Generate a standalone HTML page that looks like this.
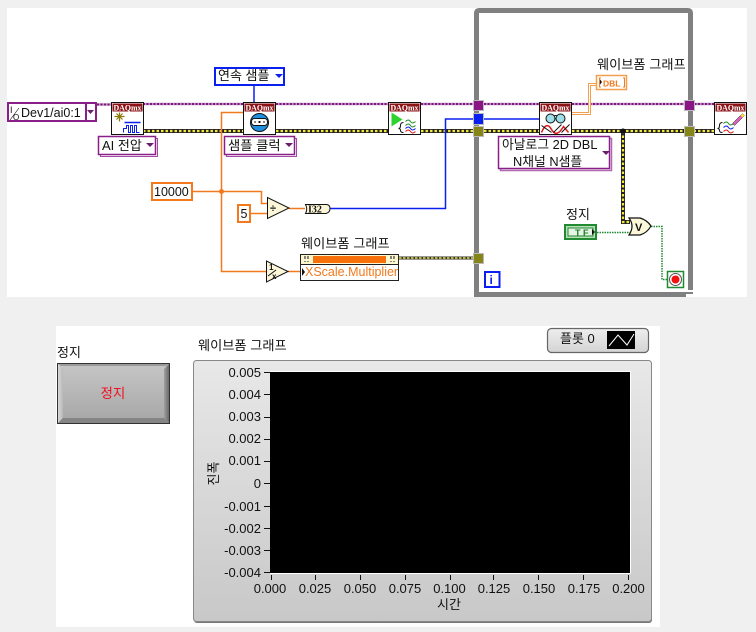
<!DOCTYPE html>
<html><head><meta charset="utf-8"><style>
html,body{margin:0;padding:0;background:#f0f0f0}
svg{display:block}
text{font-family:"Liberation Sans","Noto Sans CJK KR",sans-serif;font-size:13px;fill:#111}
.d{font-family:"Liberation Serif",serif;font-size:8.500px;font-weight:bold;fill:#fff}
</style></head><body>
<svg width="756" height="632" viewBox="0 0 756 632" xmlns="http://www.w3.org/2000/svg">
<defs>
<linearGradient id="b" x1="0" y1="0" x2="0" y2="1"><stop offset="0" stop-color="#c6c6c6"/><stop offset="1" stop-color="#a6a6a6"/></linearGradient>
<linearGradient id="bl" x1="0" y1="0" x2="1" y2="0"><stop offset="0" stop-color="#d8d8d8"/><stop offset="1" stop-color="#b8b8b8"/></linearGradient>
<linearGradient id="br" x1="0" y1="0" x2="1" y2="0"><stop offset="0" stop-color="#a0a0a0"/><stop offset="1" stop-color="#6a6a6a"/></linearGradient>
<linearGradient id="p" x1="0" y1="0" x2="0" y2="1"><stop offset="0" stop-color="#e8e8e8"/><stop offset="1" stop-color="#c8c8c8"/></linearGradient>
<linearGradient id="l" x1="0" y1="0" x2="0" y2="1"><stop offset="0" stop-color="#eeeeee"/><stop offset="1" stop-color="#d4d4d4"/></linearGradient>
</defs>
<rect width="756" height="632" fill="#f0f0f0"/>
<rect x="7" y="8" width="740" height="289" fill="#fff"/>
<rect x="56" y="326" width="604" height="301" fill="#fff"/>

<!-- loop -->
<path d="M476.500 295V13Q476.500 10.500 479 10.500H688Q690.500 10.500 690.500 13V290" fill="none" stroke="#808080" stroke-width="5"/>
<path d="M474 294.500H686" stroke="#808080" stroke-width="5"/>
<path d="M686 293H693" stroke="#808080" stroke-width="2"/>

<!-- wires purple -->
<g fill="none">
<path d="M97 104.500H112M143 104H243M276 104H388M421 104H539M572 104H714" stroke="#c48fc4" stroke-width="2.500"/>
<path d="M97 104.500H112M143 104H243M276 104H388M421 104H539M572 104H714" stroke="#7a1a7a" stroke-width="2" stroke-dasharray="2 1.500"/>
</g>
<!-- wires yellow -->
<g fill="none">
<path d="M143 131H243M276 131H388M421 131H539M572 131H714" stroke="#222" stroke-width="4"/>
<path d="M143 131H243M276 131H388M421 131H539M572 131H714" stroke="#f2e83c" stroke-width="2.200" stroke-dasharray="2.500 2"/>
<path d="M623 131V222H630" stroke="#222" stroke-width="4"/>
<path d="M623 131V222H630" stroke="#f2e83c" stroke-width="2.200" stroke-dasharray="2.500 2"/>
<path d="M399 258H475" stroke="#333" stroke-width="3"/>
<path d="M399 258H475" stroke="#e8e04a" stroke-width="1.500" stroke-dasharray="2.500 1.500"/>
</g>
<circle cx="623" cy="131" r="2.500" fill="#111"/>
<!-- blue -->
<path d="M254 85V102" stroke="#0a20f0" stroke-width="1.500"/>
<path d="M330 208.500H445.500V119H539" fill="none" stroke="#0a20f0" stroke-width="1.500"/>
<!-- orange -->
<g fill="none" stroke="#f2791d" stroke-width="1.500">
<path d="M243 112.500H221.500V271.500H267"/>
<path d="M193 191.500H261.500V203.500H267"/>
<path d="M250 213.500H267"/>
<path d="M289 208.500H305"/>
<path d="M288 271.500H300"/>
</g>
<circle cx="221.500" cy="191.500" r="2.500" fill="#f2791d"/>
<path d="M572 113.500H589.500V84.500H596" fill="none" stroke="#f2a050" stroke-width="3"/>
<path d="M572 113.500H589.500V84.500H596" fill="none" stroke="#fff" stroke-width="1"/>
<!-- green -->
<g fill="none" stroke="#1f8a30" stroke-width="1.500" stroke-dasharray="1.500 1">
<path d="M597 232.500H632"/><path d="M651 226.500H662V279.500H667"/>
</g>

<!-- tunnels -->
<g stroke="#bbb" stroke-width="1">
<rect x="473.500" y="100.500" width="10" height="10" fill="#8a1585"/>
<rect x="473.500" y="113.500" width="10" height="11" fill="#0a20f0"/>
<rect x="473.500" y="126.500" width="10" height="10" fill="#85851a"/>
<rect x="473.500" y="253.500" width="10" height="10" fill="#85851a"/>
<rect x="684.500" y="100.500" width="10" height="10" fill="#8a1585"/>
<rect x="684.500" y="126.500" width="10" height="10" fill="#85851a"/>
</g>

<!-- DAQ nodes -->
<g transform="translate(111.500,102.500)"><rect width="32" height="32" fill="#fff" stroke="#111"/><rect x="1" y="1" width="30" height="8" fill="#8c1216"/><text class="d" x="2" y="8" textLength="28" lengthAdjust="spacingAndGlyphs">DAQmx</text>
<path d="M5 11l6 6M11 11l-6 6M3 14h10M8 10v9" stroke="#8a7a10" stroke-width="1.200"/><path d="M13 20h16" stroke="#0a20f0" stroke-width="1.500"/><path d="M12 30v-4h3v-3h2v7h2v-7h2v7h2v-7h2v7h3" fill="none" stroke="#0a20f0"/></g>
<g transform="translate(243.500,102.500)"><rect width="32" height="32" fill="#fff" stroke="#111"/><rect x="1" y="1" width="30" height="8" fill="#8c1216"/><text class="d" x="2" y="8" textLength="28" lengthAdjust="spacingAndGlyphs">DAQmx</text>
<circle cx="16" cy="20" r="9" fill="#1f8fe0" stroke="#111"/><rect x="8" y="16" width="16" height="7" rx="3" fill="#fff" stroke="#111"/><path d="M11 19.500h1M15 19.500h2M20 19.500h1" stroke="#111" stroke-width="2"/></g>
<g transform="translate(388.500,102.500)"><rect width="32" height="32" fill="#fff" stroke="#111"/><rect x="1" y="1" width="30" height="8" fill="#8c1216"/><text class="d" x="2" y="8" textLength="28" lengthAdjust="spacingAndGlyphs">DAQmx</text>
<path d="M3 10l11 7-11 7z" fill="#2fd22f"/><path d="M15 20q-3 0-3 3t-2 3q2 0 2 2t3 2" fill="none" stroke="#111"/><path d="M17 19q3-3 5 0t5 0M17 23q3-3 5 0t5 0" fill="none" stroke="#2a8a2a"/><path d="M17 26q3-3 5 0t5 0" fill="none" stroke="#0a20f0"/><path d="M17 29q3-3 5 0t5 0" fill="none" stroke="#e01818"/></g>
<g transform="translate(539.500,102.500)"><rect width="32" height="32" fill="#fff" stroke="#111"/><rect x="1" y="1" width="30" height="8" fill="#8c1216"/><text class="d" x="2" y="8" textLength="28" lengthAdjust="spacingAndGlyphs">DAQmx</text>
<circle cx="11" cy="16" r="4.500" fill="#9fe0e8" stroke="#111"/><circle cx="21" cy="16" r="4.500" fill="#9fe0e8" stroke="#111"/><path d="M15 13l2 0" stroke="#111"/><path d="M2 30q5-12 10-3t12-3l5 6" fill="none" stroke="#e01818" stroke-width="1.500"/><path d="M2 23l10 7M14 30l8-8M22 30l8-8" stroke="#111"/></g>
<g transform="translate(714.500,102.500)"><rect width="32" height="32" fill="#fff" stroke="#111"/><rect x="1" y="1" width="30" height="8" fill="#8c1216"/><text class="d" x="2" y="8" textLength="28" lengthAdjust="spacingAndGlyphs">DAQmx</text>
<path d="M18 21l10-10 2 2-10 10z" fill="#e060c0" stroke="#111" stroke-width=".5"/><path d="M26 13l2-2 2 2-2 2z" fill="#f0e040"/><path d="M8 20q-3 0-3 3t-2 3q2 0 2 2t3 2" fill="none" stroke="#111"/><path d="M9 21q3-3 5 0t5 0" fill="none" stroke="#2a8a2a"/><path d="M9 25q3-3 5 0t5 0" fill="none" stroke="#0a20f0"/><path d="M9 29q3-3 5 0t5 0" fill="none" stroke="#e01818"/></g>

<!-- Dev box -->
<rect x="8" y="103" width="88" height="18" fill="#fff" stroke="#8a1f8a" stroke-width="2"/>
<path d="M86 103V121" stroke="#8a1f8a" stroke-width="2"/>
<path d="M87 110h7l-3.500 4z" fill="#6a1f6a"/>
<text x="10" y="113" style="font-size:9px">I</text><text x="13" y="120" style="font-size:8px">O</text><path d="M10 120l9-12" stroke="#111" stroke-width=".6"/>
<text x="21" y="117" style="font-size:12.500px">Dev1/ai0:1</text>

<!-- Enums -->
<rect x="100.500" y="138.500" width="57" height="18" fill="#fff" stroke="#a04aa0"/>
<rect x="98.500" y="136.500" width="57" height="18" fill="#fff" stroke="#8a1f8a" stroke-width="1.500"/>
<text x="102" y="150">AI 전압</text>
<path d="M146 143h8l-4 4z" fill="#6a1f6a"/>
<rect x="226.500" y="138.500" width="70" height="18" fill="#fff" stroke="#a04aa0"/>
<rect x="224.500" y="136.500" width="70" height="18" fill="#fff" stroke="#8a1f8a" stroke-width="1.500"/>
<text x="228" y="150" style="font-size:13.300px">샘플 클럭</text>
<path d="M285 143h8l-4 4z" fill="#6a1f6a"/>
<rect x="215" y="68" width="69" height="17" fill="#fff" stroke="#0a20f0" stroke-width="2"/>
<text x="218" y="80">연속 샘플</text>
<path d="M275 74h8l-4 4z" fill="#0a20f0"/>
<rect x="500.500" y="138.500" width="111" height="32" fill="#fff" stroke="#b068b0" stroke-width="1.500"/>
<rect x="498.500" y="136.500" width="111" height="32" fill="#fff" stroke="#8a1f8a" stroke-width="1.500"/>
<text x="502" y="149" style="font-size:12.800px">아날로그 2D DBL</text>
<text x="513" y="166" style="font-size:12.800px">N채널 N샘플</text>
<path d="M602 151h8l-4 4z" fill="#6a1f6a"/>

<!-- constants -->
<rect x="152" y="183" width="40" height="17" fill="#fff" stroke="#f2791d" stroke-width="2"/>
<text x="154" y="196" style="font-size:12.500px">10000</text>
<rect x="238" y="205" width="12" height="17" fill="#fff" stroke="#f2791d" stroke-width="2"/>
<text x="240.500" y="218" style="font-size:12.500px">5</text>

<!-- primitives -->
<path d="M267.500 197.500V218.500L289 208z" fill="#fbf7d8" stroke="#111"/>
<text x="270" y="212" style="font-size:11px;font-weight:bold">÷</text>
<path d="M266.500 261V282L288 271.500z" fill="#fbf7d8" stroke="#111"/>
<text x="269" y="270" style="font-size:8px;font-weight:bold">1</text><text x="272" y="279" style="font-size:8px;font-weight:bold">x</text><path d="M268 276l8-6" stroke="#111"/>
<path d="M305.500 204.500H326Q330 204.500 330 208.500T326 213.500H305.500Q308 209 305.500 204.500z" fill="#fbf7d8" stroke="#111"/>
<text x="308" y="212.500" style="font-family:'Liberation Serif',serif;font-size:10px;font-weight:bold">I32</text>

<!-- property node -->
<rect x="300.500" y="254.500" width="98" height="26" fill="#fff" stroke="#222"/>
<path d="M300.500 264.500H398.500" stroke="#222"/>
<rect x="301" y="255" width="97" height="9" fill="#fdf7d0"/>
<rect x="313" y="256" width="73" height="7" fill="#f8700a"/>
<path d="M305 256v3M308 256v3M305 261v1M308 261v1M391 256v3M394 256v3M391 261v1M394 261v1" stroke="#111"/>
<path d="M302 268l3 4-3 4z" fill="#111"/>
<text x="305" y="276" style="font-size:12.500px;fill:#f2791d">XScale.Multiplier</text>
<text x="301" y="248" style="font-size:13.200px">웨이브폼 그래프</text>

<!-- DBL indicator -->
<text x="597" y="69" style="font-size:13.200px">웨이브폼 그래프</text>
<rect x="596.500" y="75.500" width="30" height="14" fill="#fff" stroke="#f2a050" stroke-width="1.500"/>
<path d="M599 78l3 4-3 4z" fill="#111"/>
<path d="M601 78h-1.500v9h1.500M623 78h1.500v9h-1.500" fill="none" stroke="#f2791d"/>
<text x="603" y="86.500" style="font-size:8.500px;font-weight:bold;fill:#f2791d">DBL</text>

<!-- stop label / TF -->
<text x="566" y="219">정지</text>
<rect x="565" y="225" width="31" height="14" fill="#b9e0b9" stroke="#1f8a30" stroke-width="2"/>
<rect x="568" y="228" width="25" height="8" fill="#e6f4e6" stroke="#1f8a30"/>
<text x="575" y="236" style="font-size:9px;font-weight:bold;fill:#1f7a2a">T F</text>
<path d="M592 229l3 3-3 3z" fill="#111"/>

<!-- OR -->
<path d="M629 218H640Q647 220 651 226Q647 233 640 235H629Q635 226 629 218z" fill="#fbf7d8" stroke="#111" stroke-width="1.200"/>
<text x="635" y="231" style="font-size:11px;font-weight:bold">V</text>

<!-- stop terminal -->
<rect x="667.500" y="271.500" width="16" height="16" fill="#fff" stroke="#1f8a30" stroke-width="1.500"/>
<circle cx="675.500" cy="279.500" r="6" fill="#fff" stroke="#555"/>
<circle cx="675.500" cy="279.500" r="4" fill="#f01010"/>
<!-- i -->
<rect x="485" y="272" width="14.500" height="15" fill="#fff" stroke="#0a20f0" stroke-width="2"/>
<text x="489.500" y="284" style="font-size:12px;font-weight:bold;fill:#0a20f0">i</text>

<!-- FRONT PANEL -->
<text x="57" y="357">정지</text>
<rect x="57.500" y="363.500" width="112" height="60" fill="url(#b)" stroke="#333"/>
<path d="M58 364H169L166 366H61z" fill="#9a9a9a"/>
<path d="M58 364L63 369V418L58 423z" fill="url(#bl)"/>
<path d="M169 364L164 369V418L169 423z" fill="url(#br)"/>
<path d="M58 423L63 418H164L169 423z" fill="#858585"/>
<rect x="57.500" y="363.500" width="112" height="60" fill="none" stroke="#333"/>
<text x="100.500" y="398" style="font-size:13.500px;fill:#f01020">정지</text>

<text x="198" y="350" style="font-size:13.200px">웨이브폼 그래프</text>
<rect x="194" y="362" width="458" height="261" rx="3" fill="#777"/>
<rect x="193.500" y="360.500" width="458" height="261" rx="3" fill="url(#p)" stroke="#888"/>
<rect x="270" y="372" width="360" height="201" fill="#000"/>
<path d="M270 371.500H630.500V573" fill="none" stroke="#fff"/>
<path d="M270 573.500H630.500" stroke="#fff"/>

<g text-anchor="end" style="font-size:12.500px">
<text x="261" y="377">0.005</text><text x="261" y="399">0.004</text><text x="261" y="421">0.003</text><text x="261" y="443">0.002</text><text x="261" y="465">0.001</text><text x="261" y="488">0</text><text x="261" y="511">-0.001</text><text x="261" y="533">-0.002</text><text x="261" y="555">-0.003</text><text x="261" y="577">-0.004</text>
</g>
<path d="M264 372.500h6M264 394.500h6M264 417.500h6M264 439.500h6M264 461.500h6M264 483.500h6M264 506.500h6M264 528.500h6M264 550.500h6M264 572.500h6" stroke="#111"/>
<path d="M271.500 575v5M315.500 575v5M360.500 575v5M405.500 575v5M450.500 575v5M493.500 575v5M538.500 575v5M583.500 575v5M628.500 575v5" stroke="#111"/>
<g text-anchor="middle" style="font-size:12.500px">
<text x="270" y="593">0.000</text><text x="315" y="593">0.025</text><text x="360" y="593">0.050</text><text x="405" y="593">0.075</text><text x="449.500" y="593">0.100</text><text x="494" y="593">0.125</text><text x="539" y="593">0.150</text><text x="584" y="593">0.175</text><text x="628.500" y="593">0.200</text>
</g>
<text x="449" y="609" text-anchor="middle">시간</text>
<text transform="translate(218,473.500) rotate(-90)" text-anchor="middle">진폭</text>

<!-- legend -->
<rect x="547.500" y="328.500" width="101" height="24" rx="4" fill="url(#l)" stroke="#666" stroke-width="1.200"/>
<text x="560" y="343" style="font-size:13px">플롯 0</text>
<rect x="607" y="331" width="28" height="18" fill="#000"/>
<path d="M609 346L618 335L627 345L634 334" fill="none" stroke="#fff"/>
</svg>
</body></html>
